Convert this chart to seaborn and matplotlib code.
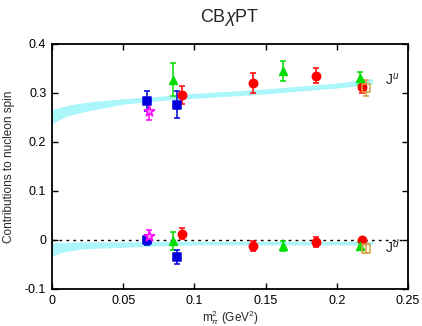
import numpy as np
import pandas as pd
import matplotlib
matplotlib.use("Agg")
import matplotlib.pyplot as plt
import seaborn as sns

# lattice points: x = m_pi^2 (GeV^2), J^u and J^d with errors
red_x = [0.091, 0.1415, 0.1856, 0.218]
red_ju = [0.296, 0.320, 0.335, 0.311]
red_ju_err = [0.018, 0.020, 0.015, 0.011]
red_jd = [0.013, -0.013, -0.004, 0.000]
red_jd_err = [0.011, 0.010, 0.010, 0.005]

green_x = [0.085, 0.162, 0.216]
green_ju = [0.327, 0.345, 0.330]
green_ju_err = [0.034, 0.020, 0.013]
green_jd = [-0.002, -0.012, -0.013]
green_jd_err = [0.018, 0.010, 0.008]

blue_x = [0.0665, 0.088]
blue_ju = [0.284, 0.276]
blue_ju_err = [0.020, 0.028]
blue_jd = [0.000, -0.034]
blue_jd_err = [0.010, 0.014]

magenta_x = [0.0685]
magenta_ju = [0.264]
magenta_ju_err = [0.019]
magenta_jd = [0.008]
magenta_jd_err = [0.013]

orange_x = [0.2205]
orange_ju = [0.310]
orange_ju_err = [0.017]
orange_jd = [-0.018]
orange_jd_err = [0.009]

# CBChPT bands
band_x = [0, 0.005, 0.01, 0.02, 0.03, 0.05, 0.075, 0.1, 0.15, 0.2, 0.225]
ju_hi = [0.265, 0.270, 0.274, 0.279, 0.283, 0.288, 0.293, 0.299, 0.308, 0.320, 0.329]
ju_lo = [0.236, 0.245, 0.252, 0.260, 0.266, 0.277, 0.284, 0.289, 0.298, 0.310, 0.318]
jd_hi = [-0.006, -0.005, -0.005, -0.004, -0.004, -0.004, -0.003, -0.003, -0.003, -0.003, -0.003]
jd_lo = [-0.034, -0.027, -0.023, -0.019, -0.017, -0.015, -0.012, -0.010, -0.010, -0.010, -0.010]

xticks = [0, 0.05, 0.1, 0.15, 0.2, 0.25]
xticklabels = ["0", "0.05", "0.1", "0.15", "0.2", "0.25"]
yticks = [-0.1, 0, 0.1, 0.2, 0.3, 0.4]
yticklabels = ["-0.1", "0", "0.1", "0.2", "0.3", "0.4"]

sns.set_style("ticks")
plt.rcParams['font.family'] = ['Liberation Sans', 'DejaVu Sans']
plt.rcParams['mathtext.fontset'] = 'custom'
plt.rcParams['mathtext.rm'] = 'Liberation Sans'
plt.rcParams['mathtext.it'] = 'Liberation Sans:italic'

fig = plt.figure(figsize=(4.22, 3.26), dpi=100)
ax = fig.add_axes([0.123, 0.1135, 0.844, 0.752])

band_col = "#aaf6fa"
ax.fill_between(band_x, ju_lo, ju_hi, color=band_col, lw=0, zorder=1)
ax.fill_between(band_x, jd_lo, jd_hi, color=band_col, lw=0, zorder=1)
ax.axhline(0, color="black", ls=(0, (2, 3)), lw=1, zorder=2)

series = [
    ("red", red_x, red_ju, red_ju_err, red_jd, red_jd_err, "#ff0000", "o", 36, "#ff0000"),
    ("green", green_x, green_ju, green_ju_err, green_jd, green_jd_err, "#00dd00", "^", 32, "#00dd00"),
    ("blue", blue_x, blue_ju, blue_ju_err, blue_jd, blue_jd_err, "#0000dd", "s", 40, "#0000dd"),
    ("magenta", magenta_x, magenta_ju, magenta_ju_err, magenta_jd, magenta_jd_err, "#ff00ff", "*", 60, "#ff99ff"),
    ("orange", orange_x, orange_ju, orange_ju_err, orange_jd, orange_jd_err, "#d8a040", "s", 40, "none"),
]

for name, x, ju, jue, jd, jde, col, mk, s, fc in series:
    df = pd.DataFrame({"x": x * 2, "y": ju + jd, "err": jue + jde})
    ax.errorbar(df["x"], df["y"], yerr=df["err"], fmt="none", ecolor=col,
                elinewidth=1.1, capsize=2, capthick=1.1, zorder=3)
    sns.scatterplot(data=df, x="x", y="y", ax=ax, marker=mk, s=s,
                    color=col, facecolor=fc, edgecolor=col, linewidth=1.1,
                    zorder=4, legend=False)

ax.text(0.234, 0.317, "J$^u$", fontsize=10, color="#222222")
ax.text(0.234, -0.025, "J$^d$", fontsize=10, color="#222222")

ax.set_xlim(0, 0.25)
ax.set_ylim(-0.1, 0.4)
ax.set_xticks(xticks)
ax.set_xticklabels(xticklabels)
ax.set_yticks(yticks)
ax.set_yticklabels(yticklabels)
ax.tick_params(direction="in", length=4, width=1, top=True, right=True,
               labelsize=9, colors="black", pad=4)
for sp in ax.spines.values():
    sp.set_linewidth(1.3)
    sp.set_color("black")

ax.set_xlabel("m$_\\pi^2$ (GeV$^2$)", fontsize=8.5, labelpad=1)
ax.set_ylabel("Contributions to nucleon spin", fontsize=8.5, labelpad=7)
fig.text(0.545, 0.945, "CB$\\chi$PT", fontsize=13, ha="center", va="center")

fig.savefig("out.png", dpi=100)
